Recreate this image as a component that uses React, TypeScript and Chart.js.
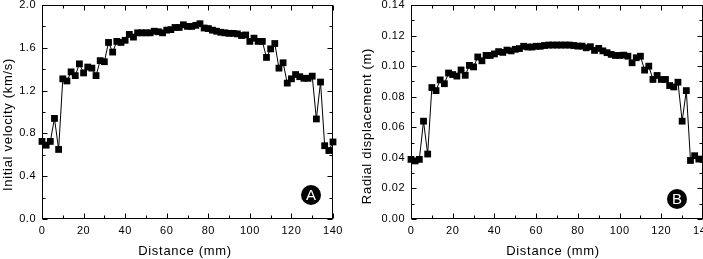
import React, { useEffect, useRef } from 'react';
import { Chart, registerables } from 'chart.js';

Chart.register(...registerables);

const FONT = "'Liberation Sans', Arial, sans-serif";

const distanceMm = [
  0, 2, 4, 6, 8, 10, 12, 14, 16, 18, 20, 22, 24, 26, 28, 30, 32, 34, 36, 38,
  40, 42, 44, 46, 48, 50, 52, 54, 56, 58, 60, 62, 64, 66, 68, 70, 72, 74, 76, 78,
  80, 82, 84, 86, 88, 90, 92, 94, 96, 98, 100, 102, 104, 106, 108, 110, 112, 114, 116, 118,
  120, 122, 124, 126, 128, 130, 132, 134, 136, 138, 140,
];

const initialVelocity = [
  0.725, 0.69, 0.725, 0.94, 0.65, 1.31, 1.29, 1.375, 1.34, 1.45,
  1.365, 1.42, 1.41, 1.34, 1.48, 1.47, 1.65, 1.56, 1.66, 1.65,
  1.67, 1.725, 1.7, 1.74, 1.74, 1.74, 1.74, 1.755, 1.75, 1.74,
  1.765, 1.77, 1.79, 1.79, 1.815, 1.8, 1.8, 1.81, 1.825, 1.785,
  1.78, 1.765, 1.755, 1.745, 1.74, 1.735, 1.735, 1.73, 1.715, 1.72,
  1.66, 1.69, 1.66, 1.66, 1.51, 1.59, 1.64, 1.41, 1.46, 1.27,
  1.31, 1.35, 1.33, 1.315, 1.315, 1.335, 0.935, 1.28, 0.685, 0.64,
  0.72,
];

const radialDisplacement = [
  0.039, 0.038, 0.039, 0.064, 0.0425, 0.086, 0.084, 0.091, 0.0885, 0.0955,
  0.0945, 0.0935, 0.0975, 0.094, 0.1005, 0.0995, 0.106, 0.1035, 0.107, 0.107,
  0.108, 0.1095, 0.109, 0.1105, 0.11, 0.111, 0.1115, 0.113, 0.1125, 0.1125,
  0.113, 0.113, 0.1135, 0.1138, 0.1138, 0.1138, 0.1138, 0.1138, 0.1138, 0.1135,
  0.1131, 0.1131, 0.112, 0.1127, 0.1103, 0.1116, 0.11, 0.1088, 0.1077, 0.107,
  0.107, 0.1072, 0.1065, 0.1022, 0.1055, 0.1065, 0.0974, 0.1, 0.0913, 0.0939,
  0.0913, 0.0913, 0.0873, 0.0864, 0.0895, 0.064, 0.084, 0.0383, 0.0414, 0.0392,
  0.039,
];

const xTitle = 'Distance (mm)';
const leftYTitle = 'Initial velocity (km/s)';
const rightYTitle = 'Radial displacement (m)';

const isMultiple = (v: number, step: number) => {
  const r = v / step;
  return Math.abs(r - Math.round(r)) < 1e-6;
};

const decorPlugin = {
  id: 'decor',
  beforeDraw(chart: any) {
    chart.ctx.letterSpacing = '0.5px';
  },
  afterDatasetsDraw(chart: any, _args: any, opts: any) {
    const { ctx, chartArea: a, scales } = chart;
    const xs = scales.x;
    const ys = scales.y;
    ctx.save();
    ctx.strokeStyle = '#000';
    ctx.lineWidth = 1;
    const L = Math.round(a.left) + 0.5;
    const R = Math.round(a.right) - 0.5;
    const T = Math.round(a.top) + 0.5;
    const B = Math.round(a.bottom) - 0.5;
    ctx.strokeRect(L, T, R - L, B - T);
    ctx.beginPath();
    for (let i = 0; ; i++) {
      const v = xs.min + i * opts.xMinor;
      if (v > xs.max + 1e-9) break;
      const len = isMultiple(v, opts.xMajor) ? 5 : 3;
      const px = Math.round(xs.getPixelForValue(v)) + 0.5;
      ctx.moveTo(px, B);
      ctx.lineTo(px, B - len);
      ctx.moveTo(px, T);
      ctx.lineTo(px, T + len);
    }
    for (let i = 0; ; i++) {
      const v = ys.min + i * opts.yMinor;
      if (v > ys.max + 1e-9) break;
      const len = isMultiple(v, opts.yMajor) ? 5 : 3;
      const py = Math.round(ys.getPixelForValue(v)) + 0.5;
      ctx.moveTo(L, py);
      ctx.lineTo(L + len, py);
      ctx.moveTo(R, py);
      ctx.lineTo(R - len, py);
    }
    ctx.stroke();

    // badge
    ctx.letterSpacing = '0px';
    ctx.fillStyle = '#000';
    ctx.beginPath();
    ctx.arc(opts.badge.x, opts.badge.y, 10, 0, Math.PI * 2);
    ctx.fill();
    ctx.fillStyle = '#fff';
    ctx.font = `15px ${FONT}`;
    ctx.textAlign = 'center';
    ctx.textBaseline = 'middle';
    ctx.fillText(opts.badge.text, opts.badge.x, opts.badge.y + 1);

    // axis titles
    ctx.letterSpacing = '0.7px';
    ctx.fillStyle = '#000';
    ctx.font = `13px ${FONT}`;
    ctx.fillText(opts.xTitle.text, opts.xTitle.x, opts.xTitle.y);
    ctx.save();
    ctx.translate(opts.yTitle.x, opts.yTitle.y);
    ctx.rotate(-Math.PI / 2);
    ctx.fillText(opts.yTitle.text, 0, 0);
    ctx.restore();
    ctx.restore();
  },
};

function buildConfig(p: {
  values: number[];
  yMax: number;
  yStep: number;
  yMinor: number;
  decimals: number;
  yWidth: number;
  padRight: number;
  badge: any;
  xTitle: any;
  yTitle: any;
}): any {
  return {
    type: 'line',
    data: {
      datasets: [
        {
          data: distanceMm.map((d, i) => ({ x: d, y: p.values[i] })),
          borderColor: '#000',
          borderWidth: 1,
          pointStyle: 'rect',
          pointRadius: 4.8,
          pointBackgroundColor: '#000',
          pointBorderColor: '#000',
          pointBorderWidth: 0,
          clip: false,
          tension: 0,
        },
      ],
    },
    options: {
      animation: false,
      responsive: false,
      devicePixelRatio: 1,
      events: [],
      layout: {
        autoPadding: false,
        padding: { top: 5, right: p.padRight, left: 0, bottom: 0 },
      },
      plugins: {
        legend: { display: false },
        tooltip: { enabled: false },
        decor: {
          xMajor: 20,
          xMinor: 10,
          yMajor: p.yStep,
          yMinor: p.yMinor,
          badge: p.badge,
          xTitle: p.xTitle,
          yTitle: p.yTitle,
        },
      },
      scales: {
        x: {
          type: 'linear',
          min: 0,
          max: 140,
          afterFit: (s: any) => {
            s.height = 40;
            s.paddingLeft = 0;
            s.paddingRight = 0;
          },
          ticks: {
            stepSize: 20,
            color: '#000',
            font: { family: FONT, size: 11 },
            padding: 5,
            maxRotation: 0,
            autoSkip: false,
          },
          grid: { display: false, drawTicks: false },
          border: { display: false },
        },
        y: {
          type: 'linear',
          min: 0,
          max: p.yMax,
          afterFit: (s: any) => {
            s.width = p.yWidth;
            s.paddingTop = 0;
            s.paddingBottom = 0;
          },
          ticks: {
            stepSize: p.yStep,
            color: '#000',
            font: { family: FONT, size: 11 },
            padding: 6,
            autoSkip: false,
            callback: (v: any) => Number(v).toFixed(p.decimals),
          },
          grid: { display: false, drawTicks: false },
          border: { display: false },
        },
      },
    },
    plugins: [decorPlugin],
  };
}

export default function App() {
  const leftRef = useRef<HTMLCanvasElement>(null);
  const rightRef = useRef<HTMLCanvasElement>(null);

  useEffect(() => {
    const c1 = new Chart(
      leftRef.current as HTMLCanvasElement,
      buildConfig({
        values: initialVelocity,
        yMax: 2.0,
        yStep: 0.4,
        yMinor: 0.2,
        decimals: 1,
        yWidth: 42,
        padRight: 17,
        badge: { text: 'A', x: 311, y: 195 },
        xTitle: { text: xTitle, x: 185, y: 251 },
        yTitle: { text: leftYTitle, x: 8, y: 124.5 },
      })
    );
    const c2 = new Chart(
      rightRef.current as HTMLCanvasElement,
      buildConfig({
        values: radialDisplacement,
        yMax: 0.14,
        yStep: 0.02,
        yMinor: 0.01,
        decimals: 2,
        yWidth: 55,
        padRight: 0,
        badge: { text: 'B', x: 321, y: 199 },
        xTitle: { text: xTitle, x: 197, y: 251 },
        yTitle: { text: rightYTitle, x: 11.5, y: 126 },
      })
    );
    return () => {
      c1.destroy();
      c2.destroy();
    };
  }, []);

  return (
    <div
      style={{
        position: 'fixed',
        left: 0,
        top: 0,
        width: 703,
        height: 259,
        overflow: 'hidden',
        background: '#fff',
      }}
    >
      <canvas
        ref={leftRef}
        width={350}
        height={259}
        style={{ position: 'absolute', left: 0, top: 0 }}
      />
      <canvas
        ref={rightRef}
        width={347}
        height={259}
        style={{ position: 'absolute', left: 356, top: 0 }}
      />
    </div>
  );
}
